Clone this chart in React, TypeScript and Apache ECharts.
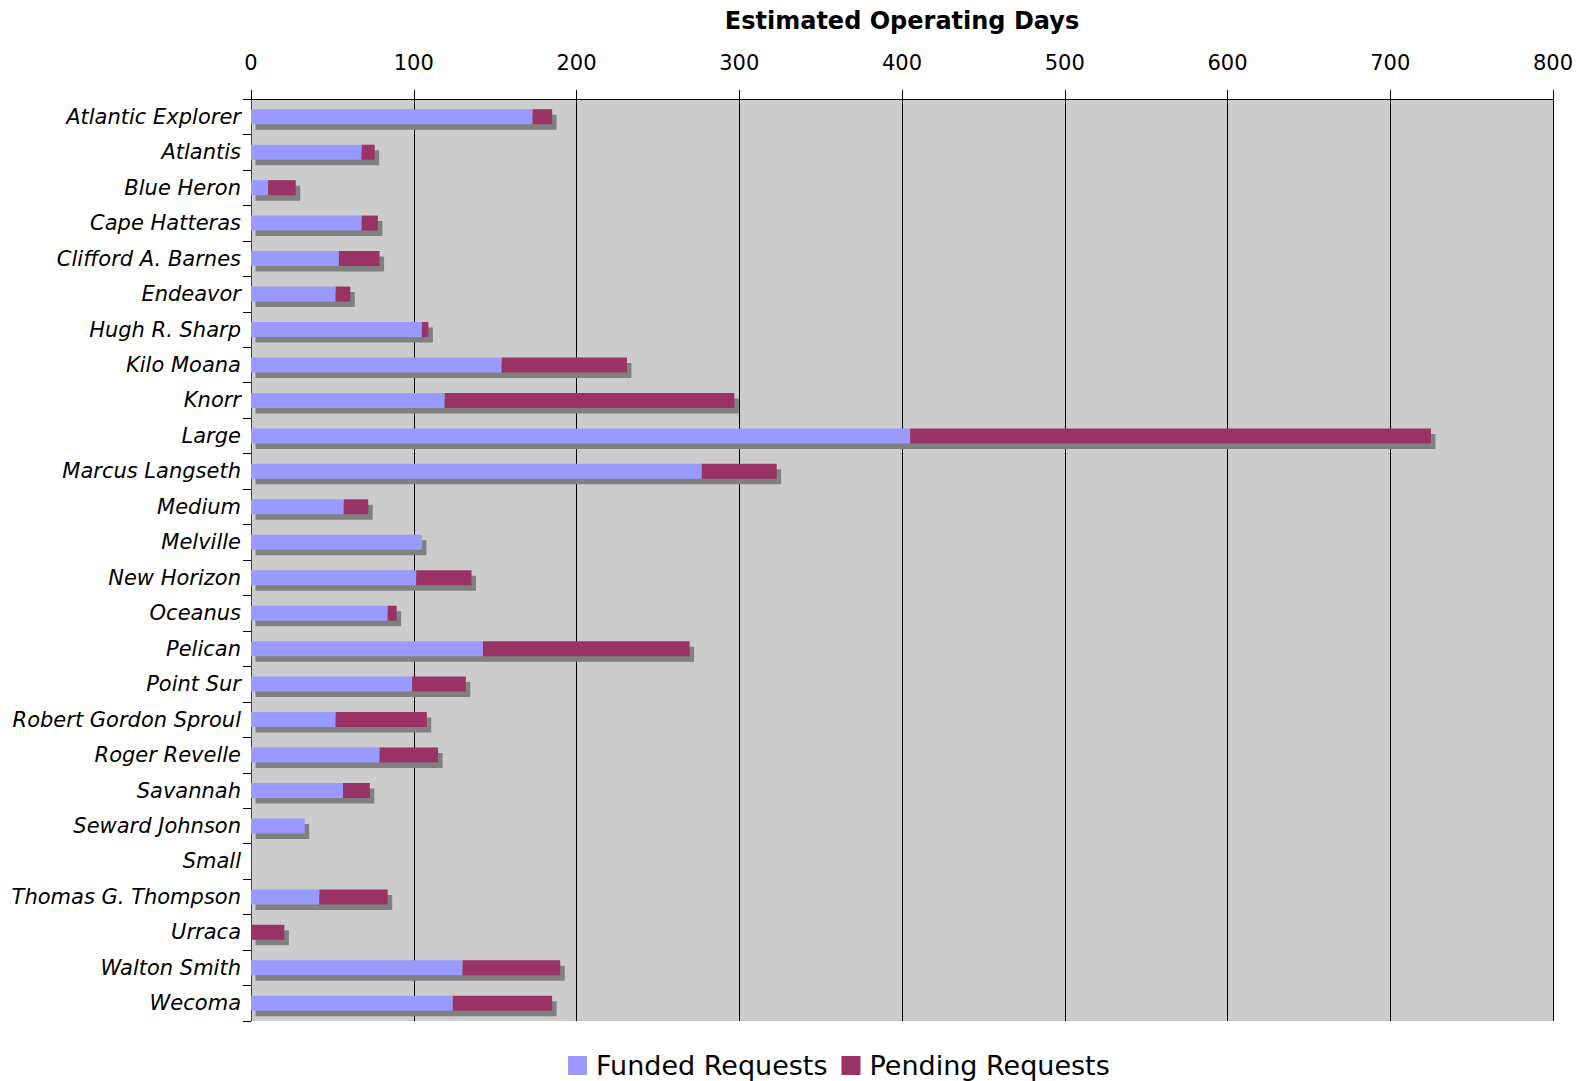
import React, { useEffect, useRef } from "react";
import * as echarts from "echarts";

const categories = [
  "Atlantic Explorer", "Atlantis", "Blue Heron", "Cape Hatteras", "Clifford A. Barnes",
  "Endeavor", "Hugh R. Sharp", "Kilo Moana", "Knorr", "Large", "Marcus Langseth",
  "Medium", "Melville", "New Horizon", "Oceanus", "Pelican", "Point Sur",
  "Robert Gordon Sproul", "Roger Revelle", "Savannah", "Seward Johnson", "Small",
  "Thomas G. Thompson", "Urraca", "Walton Smith", "Wecoma",
];
const funded = [173, 68, 10.5, 68, 54, 52, 105, 154, 119, 405, 277, 57, 105, 101.5, 84, 142.5, 99, 52, 79, 56.5, 33, 0, 42, 0, 130, 124];
const pending = [12, 8, 17, 10, 25, 9, 4, 77, 178, 320, 46, 15, 0, 34, 5.5, 127, 33, 56, 36, 16.5, 0, 0, 42, 20.5, 60, 61];
const xTicks = { min: 0, max: 800, interval: 100 };

const FONT = "DejaVu Sans";

export default function App() {
  const ref = useRef<HTMLDivElement>(null);
  useEffect(() => {
    if (!ref.current) return;
    const chart = echarts.init(ref.current, undefined, { renderer: "svg" });
    const shadowData = categories.map((_, i) => [funded[i] + pending[i], i]);
    chart.setOption({
      animation: false,
      backgroundColor: "#ffffff",
      title: {
        text: "Estimated Operating Days",
        left: 897,
        top: 4,
        textAlign: "center",
        textStyle: { fontFamily: FONT, fontWeight: "bold", fontSize: 24, color: "#000" },
      },
      legend: {
        data: ["Funded Requests", "Pending Requests"],
        left: 563,
        top: 1047,
        itemWidth: 19,
        itemHeight: 19,
        itemGap: 14,
        icon: "rect",
        textStyle: { fontFamily: FONT, fontSize: 27, color: "#000", padding: [0, 0, 0, 4] },
      },
      grid: {
        left: 251,
        right: 26,
        top: 99,
        bottom: 60,
        show: true,
        backgroundColor: "#CCCCCC",
        borderWidth: 0,
      },
      xAxis: {
        type: "value",
        position: "top",
        min: xTicks.min,
        max: xTicks.max,
        interval: xTicks.interval,
        axisLine: { show: true, lineStyle: { color: "#000", width: 1 } },
        axisTick: { show: true, length: 9, lineStyle: { color: "#000" } },
        axisLabel: { fontFamily: FONT, fontSize: 21, color: "#000", margin: 26 },
        splitLine: { show: true, lineStyle: { color: "#000", width: 1 } },
      },
      yAxis: {
        type: "category",
        data: categories,
        inverse: true,
        axisLine: { show: true, lineStyle: { color: "#444", width: 1 } },
        axisTick: { show: true, length: 8, alignWithLabel: false, lineStyle: { color: "#000" } },
        axisLabel: { fontFamily: FONT, fontStyle: "italic", fontSize: 21, color: "#000", margin: 10 },
        splitLine: { show: false },
      },
      series: [
        {
          type: "custom",
          name: "shadow",
          silent: true,
          z: 1,
          encode: { x: 0, y: 1 },
          data: shadowData,
          renderItem: (params: any, api: any) => {
            const total = api.value(0);
            const idx = api.value(1);
            if (!total) return null;
            const s = api.coord([0, idx]);
            const e = api.coord([total, idx]);
            const h = 15;
            return {
              type: "rect",
              shape: { x: s[0] + 4.5, y: s[1] - h / 2 + 5.5, width: e[0] - s[0], height: h },
              style: { fill: "#808080" },
            };
          },
        },
        {
          type: "bar",
          name: "Funded Requests",
          stack: "total",
          z: 3,
          barWidth: 15,
          data: funded,
          itemStyle: { color: "#9999FF" },
        },
        {
          type: "bar",
          name: "Pending Requests",
          stack: "total",
          z: 3,
          barWidth: 15,
          data: pending,
          itemStyle: { color: "#993366" },
        },
      ],
    });
    return () => chart.dispose();
  }, []);
  return (
    <div
      ref={ref}
      style={{ position: "fixed", left: 0, top: 0, width: 1579, height: 1081 }}
    />
  );
}
